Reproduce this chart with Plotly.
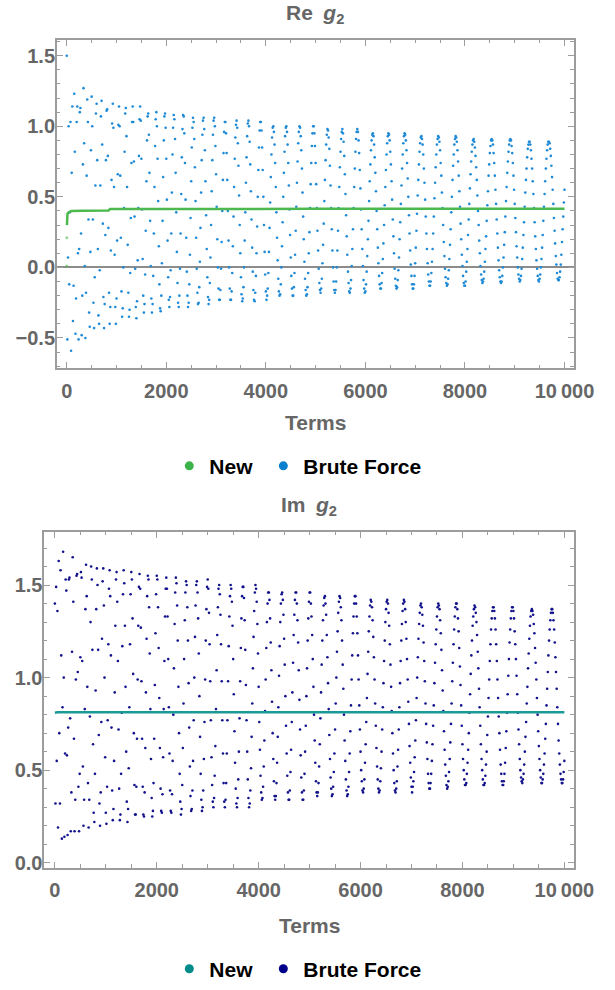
import plotly.graph_objects as go

# ---------------- data (read / estimated from the reference picture) ----------------
# Brute-force partial sums: samples at terms 0, 25, ..., 10000 and at 12, 37, ..., 9987
terms = list(range(0, 10001, 25))
terms_mid = list(range(12, 10000, 25))

re_brute = [
    1.50, 0.07, -0.12, 1.03, 0.67, -0.38, 1.23, -0.47, 1.03, 0.10, 0.13, 1.13, -0.48, 0.73, 0.88, -0.50, 0.65, 1.03, -0.32, 0.11,
    1.21, 0.34, -0.43, 0.58, 1.16, 0.13, -0.40, 0.58, 1.18, 0.31, -0.43, 0.23, 1.11, 0.79, -0.18, -0.28, 0.62, 1.16, 0.57, -0.28,
    -0.22, 0.66, 1.14, 0.65, -0.17, -0.29, 0.42, 1.09, 0.93, 0.16, -0.35, -0.04, 0.74, 1.14, 0.75, -0.01, -0.36, 0.05, 0.79, 1.14,
    0.77, 0.06, -0.32, -0.05, 0.61, 1.07, 0.94, 0.33, -0.22, -0.26, 0.24, 0.86, 1.10, 0.77, 0.15, -0.29, -0.20, 0.33, 0.90, 1.09,
    0.77, 0.19, -0.23, -0.21, 0.24, 0.80, 1.08, 0.91, 0.39, -0.11, -0.28, -0.01, 0.52, 0.98, 1.07, 0.74, 0.21, -0.20, -0.25, 0.09,
    0.61, 0.99, 1.03, 0.71, 0.21, -0.18, -0.25, 0.04, 0.53, 0.94, 1.06, 0.83, 0.37, -0.07, -0.26, -0.11, 0.30, 0.76, 1.04, 1.00,
    0.66, 0.20, -0.15, -0.23, -0.01, 0.40, 0.81, 1.03, 0.95, 0.62, 0.19, -0.15, -0.23, -0.04, 0.36, 0.77, 1.01, 0.99, 0.72, 0.30,
    -0.07, -0.24, -0.14, 0.19, 0.60, 0.93, 1.04, 0.89, 0.54, 0.14, -0.16, -0.24, -0.06, 0.29, 0.69, 0.97, 1.03, 0.85, 0.50, 0.11,
    -0.17, -0.20, -0.04, 0.28, 0.64, 0.92, 1.00, 0.87, 0.57, 0.21, -0.08, -0.20, -0.12, 0.15, 0.50, 0.82, 0.99, 0.96, 0.74, 0.41,
    0.07, -0.15, -0.20, -0.04, 0.26, 0.60, 0.88, 1.00, 0.93, 0.70, 0.36, 0.04, -0.16, -0.19, -0.04, 0.25, 0.59, 0.86, 1.00, 0.95,
    0.74, 0.42, 0.12, -0.11, -0.18, -0.08, 0.16, 0.47, 0.76, 0.94, 0.97, 0.84, 0.58, 0.27, 0.00, -0.16, -0.16, 0.00, 0.26, 0.57,
    0.82, 0.96, 0.95, 0.79, 0.52, 0.22, -0.03, -0.17, -0.15, 0.01, 0.27, 0.57, 0.82, 0.96, 0.96, 0.81, 0.56, 0.27, 0.01, -0.15,
    -0.17, -0.03, 0.20, 0.47, 0.73, 0.90, 0.95, 0.87, 0.67, 0.40, 0.14, -0.06, -0.15, -0.11, 0.06, 0.30, 0.57, 0.80, 0.93, 0.94,
    0.82, 0.61, 0.34, 0.10, -0.08, -0.15, -0.09, 0.07, 0.32, 0.58, 0.80, 0.93, 0.94, 0.83, 0.63, 0.37, 0.12, -0.06, -0.15, -0.12,
    0.03, 0.26, 0.51, 0.73, 0.88, 0.93, 0.87, 0.70, 0.48, 0.24, 0.03, -0.10, -0.13, -0.04, 0.13, 0.36, 0.60, 0.80, 0.91, 0.92,
    0.83, 0.65, 0.42, 0.18, -0.01, -0.11, -0.12, -0.02, 0.16, 0.39, 0.62, 0.80, 0.91, 0.92, 0.83, 0.65, 0.43, 0.20, 0.01, -0.11,
    -0.13, -0.03, 0.13, 0.34, 0.56, 0.75, 0.87, 0.91, 0.85, 0.71, 0.51, 0.30, 0.10, -0.05, -0.11, -0.08, 0.04, 0.22, 0.44, 0.65,
    0.81, 0.90, 0.90, 0.81, 0.65, 0.45, 0.24, 0.05, -0.07, -0.11, -0.06, 0.07, 0.25, 0.47, 0.67, 0.82, 0.90, 0.90, 0.81, 0.65,
    0.45, 0.25, 0.07, -0.05, -0.10, -0.06, 0.06, 0.23, 0.43, 0.62, 0.78, 0.87, 0.89, 0.83, 0.70, 0.52, 0.32, 0.13, -0.01, -0.09,
    -0.08, 0.00, 0.14, 0.33, 0.52, 0.70, 0.83, 0.89, 0.88, 0.79, 0.64, 0.45, 0.26, 0.08, -0.04, -0.09, -0.07, 0.02, 0.18, 0.36,
    0.55,
]

re_brute_mid = [
    -0.51, 1.00, 0.39, -0.59, 1.14, -0.13, 0.82, -0.22, 1.14, -0.51, 1.10, 0.24, -0.20, 1.27, 0.01, -0.18, 1.19, 0.34, -0.42, 0.83,
    1.00, -0.25, -0.07, 1.09, 0.76, -0.34, -0.02, 1.07, 0.87, -0.21, -0.26, 0.76, 1.12, 0.28, -0.40, 0.12, 1.02, 0.99, 0.09, -0.40,
    0.19, 1.01, 1.00, 0.21, -0.35, 0.00, 0.82, 1.13, 0.57, -0.18, -0.30, 0.35, 1.03, 1.03, 0.36, -0.28, -0.24, 0.42, 1.05, 1.04,
    0.41, -0.20, -0.26, 0.26, 0.90, 1.09, 0.67, 0.01, -0.32, -0.06, 0.57, 1.05, 1.00, 0.47, -0.12, -0.31, 0.03, 0.64, 1.07, 0.99,
    0.48, -0.07, -0.28, -0.02, 0.53, 0.99, 1.05, 0.67, 0.11, -0.25, -0.20, 0.24, 0.78, 1.08, 0.95, 0.48, -0.03, -0.28, -0.12, 0.35,
    0.85, 1.06, 0.91, 0.47, -0.01, -0.26, -0.14, 0.28, 0.76, 1.04, 0.98, 0.61, 0.13, -0.21, -0.23, 0.07, 0.54, 0.94, 1.06, 0.86,
    0.43, 0.00, -0.23, -0.16, 0.18, 0.62, 0.96, 1.03, 0.81, 0.40, 0.00, -0.23, -0.17, 0.15, 0.57, 0.92, 1.04, 0.88, 0.51, 0.10,
    -0.19, -0.22, 0.00, 0.39, 0.78, 1.02, 1.00, 0.73, 0.34, -0.03, -0.23, -0.18, 0.10, 0.50, 0.85, 1.03, 0.97, 0.69, 0.30, -0.05,
    -0.23, -0.15, 0.11, 0.46, 0.80, 0.99, 0.96, 0.74, 0.39, 0.05, -0.17, -0.19, 0.00, 0.32, 0.67, 0.93, 1.00, 0.87, 0.58, 0.23,
    -0.06, -0.20, -0.14, 0.09, 0.43, 0.75, 0.96, 0.99, 0.83, 0.53, 0.20, -0.08, -0.20, -0.14, 0.10, 0.42, 0.74, 0.95, 1.00, 0.86,
    0.59, 0.26, -0.01, -0.16, -0.15, 0.03, 0.31, 0.62, 0.87, 0.98, 0.92, 0.72, 0.42, 0.12, -0.10, -0.18, -0.10, 0.12, 0.42, 0.71,
    0.91, 0.98, 0.89, 0.66, 0.37, 0.09, -0.11, -0.18, -0.09, 0.13, 0.42, 0.70, 0.91, 0.98, 0.90, 0.69, 0.41, 0.13, -0.09, -0.18,
    -0.12, 0.08, 0.33, 0.61, 0.83, 0.94, 0.93, 0.78, 0.54, 0.27, 0.03, -0.12, -0.15, -0.04, 0.17, 0.44, 0.69, 0.88, 0.95, 0.90,
    0.73, 0.48, 0.22, -0.01, -0.13, -0.14, -0.02, 0.20, 0.45, 0.70, 0.88, 0.95, 0.90, 0.74, 0.50, 0.24, 0.02, -0.12, -0.15, -0.06,
    0.14, 0.38, 0.62, 0.82, 0.92, 0.91, 0.80, 0.60, 0.36, 0.13, -0.05, -0.13, -0.10, 0.04, 0.24, 0.49, 0.71, 0.87, 0.93, 0.89,
    0.74, 0.53, 0.30, 0.08, -0.07, -0.13, -0.08, 0.06, 0.27, 0.50, 0.72, 0.87, 0.93, 0.89, 0.75, 0.54, 0.31, 0.09, -0.06, -0.13,
    -0.10, 0.04, 0.23, 0.45, 0.66, 0.82, 0.90, 0.89, 0.79, 0.62, 0.40, 0.19, 0.01, -0.09, -0.10, -0.03, 0.13, 0.33, 0.54, 0.73,
    0.86, 0.91, 0.87, 0.74, 0.55, 0.34, 0.14, -0.02, -0.10, -0.10, 0.00, 0.16, 0.36, 0.57, 0.75, 0.87, 0.91, 0.86, 0.74, 0.55,
    0.35, 0.15, 0.00, -0.08, -0.09, -0.01, 0.14, 0.32, 0.53, 0.70, 0.84, 0.89, 0.87, 0.77, 0.61, 0.42, 0.22, 0.05, -0.06, -0.10,
    -0.05, 0.06, 0.23, 0.43, 0.61, 0.77, 0.87, 0.89, 0.84, 0.72, 0.55, 0.35, 0.17, 0.02, -0.08, -0.09, -0.03, 0.09, 0.27, 0.46,
]

im_brute = [
    1.40, 1.49, 1.36, 1.63, 0.32, 1.12, 0.84, 1.00, 0.59, 1.47, 0.15, 1.53, 0.78, 0.38, 1.65, 0.67, 0.34, 1.55, 1.03, 0.17,
    1.11, 1.54, 0.52, 0.34, 1.37, 1.44, 0.43, 0.34, 1.30, 1.53, 0.64, 0.22, 0.93, 1.59, 1.15, 0.32, 0.38, 1.21, 1.59, 1.00,
    0.27, 0.41, 1.18, 1.58, 1.12, 0.39, 0.29, 0.92, 1.53, 1.41, 0.72, 0.23, 0.48, 1.17, 1.58, 1.28, 0.60, 0.22, 0.51, 1.18,
    1.57, 1.32, 0.70, 0.26, 0.41, 0.99, 1.49, 1.48, 0.98, 0.41, 0.25, 0.62, 1.21, 1.55, 1.38, 0.83, 0.35, 0.28, 0.67, 1.24,
    1.55, 1.38, 0.89, 0.40, 0.27, 0.57, 1.09, 1.48, 1.48, 1.10, 0.59, 0.28, 0.37, 0.80, 1.29, 1.54, 1.39, 0.95, 0.48, 0.26,
    0.42, 0.86, 1.31, 1.52, 1.38, 0.97, 0.52, 0.28, 0.39, 0.77, 1.22, 1.50, 1.46, 1.13, 0.68, 0.34, 0.30, 0.56, 0.99, 1.37,
    1.53, 1.35, 0.98, 0.57, 0.33, 0.35, 0.63, 1.04, 1.38, 1.50, 1.34, 0.98, 0.59, 0.33, 0.34, 0.59, 0.98, 1.33, 1.50, 1.41,
    1.10, 0.71, 0.40, 0.30, 0.45, 0.78, 1.16, 1.44, 1.49, 1.31, 0.96, 0.60, 0.35, 0.32, 0.51, 0.86, 1.22, 1.46, 1.48, 1.29,
    0.95, 0.61, 0.38, 0.35, 0.52, 0.82, 1.16, 1.40, 1.46, 1.32, 1.04, 0.70, 0.44, 0.34, 0.43, 0.68, 1.01, 1.30, 1.45, 1.42,
    1.21, 0.90, 0.59, 0.38, 0.34, 0.49, 0.76, 1.08, 1.34, 1.46, 1.40, 1.19, 0.88, 0.58, 0.38, 0.34, 0.48, 0.74, 1.05, 1.32,
    1.46, 1.40, 1.23, 0.95, 0.66, 0.44, 0.36, 0.43, 0.64, 0.92, 1.20, 1.39, 1.44, 1.34, 1.11, 0.83, 0.56, 0.40, 0.37, 0.49,
    0.72, 1.00, 1.25, 1.41, 1.43, 1.31, 1.07, 0.80, 0.55, 0.39, 0.37, 0.49, 0.71, 0.99, 1.24, 1.40, 1.44, 1.33, 1.12, 0.85,
    0.60, 0.44, 0.38, 0.45, 0.64, 0.89, 1.14, 1.33, 1.42, 1.38, 1.22, 0.99, 0.74, 0.52, 0.40, 0.39, 0.51, 0.72, 0.97, 1.20,
    1.37, 1.42, 1.35, 1.18, 0.95, 0.70, 0.50, 0.39, 0.40, 0.52, 0.72, 0.97, 1.20, 1.36, 1.42, 1.37, 1.21, 0.99, 0.75, 0.54,
    0.41, 0.41, 0.49, 0.66, 0.89, 1.11, 1.29, 1.39, 1.38, 1.28, 1.09, 0.86, 0.65, 0.48, 0.40, 0.43, 0.55, 0.74, 0.97, 1.18,
    1.33, 1.40, 1.37, 1.24, 1.04, 0.82, 0.61, 0.47, 0.40, 0.44, 0.56, 0.75, 0.98, 1.18, 1.33, 1.40, 1.37, 1.25, 1.06, 0.85,
    0.64, 0.50, 0.42, 0.43, 0.54, 0.70, 0.91, 1.12, 1.28, 1.37, 1.38, 1.30, 1.14, 0.94, 0.74, 0.56, 0.45, 0.42, 0.47, 0.60,
    0.79, 0.99, 1.18, 1.32, 1.38, 1.36, 1.26, 1.09, 0.89, 0.70, 0.53, 0.44, 0.42, 0.48, 0.62, 0.81, 1.01, 1.19, 1.32, 1.38,
    1.36, 1.25, 1.10, 0.91, 0.72, 0.56, 0.46, 0.43, 0.48, 0.60, 0.76, 0.95, 1.13, 1.28, 1.36, 1.36, 1.29, 1.16, 0.99, 0.80,
    0.63, 0.50, 0.43, 0.45, 0.53, 0.67, 0.85, 1.03, 1.20, 1.31, 1.37, 1.35, 1.26, 1.11, 0.94, 0.75, 0.59, 0.48, 0.43, 0.45,
    0.55,
]

im_brute_mid = [
    0.32, 0.55, 0.19, 0.70, 1.58, 0.13, 1.68, 0.14, 1.53, 0.58, 0.73, 1.54, 0.17, 1.14, 1.41, 0.17, 0.99, 1.56, 0.41, 0.48,
    1.57, 1.09, 0.20, 0.83, 1.61, 0.95, 0.19, 0.79, 1.60, 1.15, 0.27, 0.48, 1.37, 1.50, 0.69, 0.20, 0.76, 1.52, 1.39, 0.57,
    0.21, 0.77, 1.48, 1.44, 0.73, 0.23, 0.55, 1.28, 1.57, 1.09, 0.40, 0.26, 0.81, 1.45, 1.51, 0.95, 0.33, 0.29, 0.84, 1.45,
    1.53, 1.02, 0.42, 0.26, 0.67, 1.28, 1.56, 1.27, 0.67, 0.26, 0.38, 0.92, 1.44, 1.53, 1.13, 0.56, 0.25, 0.43, 0.96, 1.45,
    1.53, 1.16, 0.62, 0.28, 0.37, 0.83, 1.33, 1.54, 1.33, 0.84, 0.39, 0.27, 0.55, 1.05, 1.46, 1.51, 1.20, 0.70, 0.33, 0.29,
    0.62, 1.10, 1.46, 1.50, 1.20, 0.73, 0.36, 0.29, 0.55, 1.00, 1.39, 1.52, 1.32, 0.90, 0.48, 0.28, 0.39, 0.76, 1.20, 1.49,
    1.48, 1.18, 0.77, 0.42, 0.30, 0.47, 0.83, 1.23, 1.48, 1.45, 1.18, 0.77, 0.43, 0.30, 0.43, 0.77, 1.17, 1.44, 1.48, 1.28,
    0.91, 0.54, 0.32, 0.35, 0.60, 0.98, 1.32, 1.49, 1.43, 1.15, 0.77, 0.45, 0.30, 0.39, 0.68, 1.05, 1.36, 1.50, 1.41, 1.13,
    0.76, 0.47, 0.34, 0.41, 0.66, 0.99, 1.30, 1.46, 1.42, 1.19, 0.87, 0.56, 0.36, 0.36, 0.54, 0.84, 1.17, 1.40, 1.46, 1.34,
    1.07, 0.74, 0.47, 0.34, 0.39, 0.61, 0.92, 1.23, 1.42, 1.46, 1.31, 1.04, 0.72, 0.46, 0.34, 0.39, 0.60, 0.90, 1.20, 1.41,
    1.46, 1.33, 1.10, 0.80, 0.54, 0.38, 0.38, 0.52, 0.78, 1.07, 1.31, 1.43, 1.40, 1.23, 0.97, 0.69, 0.46, 0.36, 0.41, 0.59,
    0.86, 1.14, 1.35, 1.44, 1.38, 1.20, 0.94, 0.66, 0.45, 0.36, 0.41, 0.59, 0.85, 1.12, 1.33, 1.44, 1.40, 1.24, 0.99, 0.72,
    0.50, 0.39, 0.40, 0.54, 0.76, 1.02, 1.25, 1.39, 1.41, 1.31, 1.11, 0.86, 0.62, 0.45, 0.38, 0.44, 0.60, 0.84, 1.09, 1.30,
    1.41, 1.40, 1.28, 1.07, 0.82, 0.59, 0.43, 0.38, 0.44, 0.61, 0.84, 1.09, 1.29, 1.40, 1.41, 1.30, 1.10, 0.87, 0.63, 0.46,
    0.38, 0.44, 0.57, 0.77, 1.00, 1.21, 1.35, 1.40, 1.34, 1.19, 0.98, 0.75, 0.56, 0.43, 0.40, 0.48, 0.64, 0.85, 1.08, 1.26,
    1.38, 1.39, 1.31, 1.15, 0.93, 0.71, 0.53, 0.42, 0.41, 0.49, 0.65, 0.86, 1.08, 1.26, 1.38, 1.40, 1.32, 1.16, 0.96, 0.74,
    0.56, 0.45, 0.42, 0.48, 0.61, 0.81, 1.02, 1.20, 1.33, 1.39, 1.35, 1.23, 1.05, 0.84, 0.64, 0.50, 0.42, 0.43, 0.53, 0.69,
    0.89, 1.09, 1.26, 1.36, 1.38, 1.32, 1.18, 0.99, 0.79, 0.61, 0.48, 0.42, 0.44, 0.54, 0.71, 0.91, 1.10, 1.26, 1.36, 1.38,
    1.32, 1.18, 1.01, 0.81, 0.64, 0.50, 0.44, 0.45, 0.53, 0.68, 0.86, 1.05, 1.21, 1.33, 1.37, 1.34, 1.24, 1.08, 0.89, 0.71,
    0.56, 0.46, 0.43, 0.48, 0.59, 0.75, 0.94, 1.12, 1.26, 1.35, 1.37, 1.31, 1.19, 1.03, 0.84, 0.66, 0.53, 0.45, 0.43, 0.49,
]

assert len(re_brute) == len(terms) and len(im_brute) == len(terms)
assert len(re_brute_mid) == len(terms_mid) and len(im_brute_mid) == len(terms_mid)

# "New" method (converges almost immediately)
new_re_first_terms = [0, 2]
new_re_first_vals = [0.01, 0.21]
new_re_terms = [4, 8, 15, 40, 100, 300, 840, 870, 2000, 5000, 10000]
new_re_vals = [0.30, 0.36, 0.38, 0.39, 0.40, 0.402, 0.404, 0.413, 0.414, 0.415, 0.415]

new_im_terms = [0, 50, 10000]
new_im_vals = [0.81, 0.813, 0.813]

x_tick_vals = [0, 2000, 4000, 6000, 8000, 10000]
x_tick_text = ["0", "2000", "4000", "6000", "8000", "10\u2009000"]
re_tick_vals = [-0.5, 0.0, 0.5, 1.0, 1.5]
re_tick_text = ["\u22120.5", "0.0", "0.5", "1.0", "1.5"]
im_tick_vals = [0.0, 0.5, 1.0, 1.5]
im_tick_text = ["0.0", "0.5", "1.0", "1.5"]

# ---------------- styling ----------------
FONT = "Liberation Sans"
TXT = "#666666"
FRAME = "#9c9c9c"
C_RE_NEW = "#4db84d"
C_RE_BF = "#1f8ad6"
C_IM_NEW = "#1a9a96"
C_IM_BF = "#12128c"
DOT = 2.6

W, H = 615, 990


def px_x(p):
    return p / W


def px_y(p):
    return 1 - p / H


fig = go.Figure()

# ---- Re panel ----
fig.add_trace(go.Scatter(x=terms + terms_mid, y=re_brute + re_brute_mid, mode="markers", xaxis="x", yaxis="y",
                         marker=dict(size=DOT, color=C_RE_BF), showlegend=False, name="Brute Force"))
fig.add_trace(go.Scatter(x=new_re_first_terms, y=new_re_first_vals, mode="markers", xaxis="x", yaxis="y",
                         marker=dict(size=3, color=C_RE_NEW, opacity=0.6), showlegend=False, name="New"))
fig.add_trace(go.Scatter(x=new_re_terms, y=new_re_vals, mode="lines", xaxis="x", yaxis="y",
                         line=dict(color=C_RE_NEW, width=2.5), showlegend=False, name="New"))
fig.add_trace(go.Scatter(x=[None], y=[None], mode="markers", xaxis="x", yaxis="y",
                         marker=dict(size=9, color="#3cb44b"), name="New\u00a0", legend="legend"))
fig.add_trace(go.Scatter(x=[None], y=[None], mode="markers", xaxis="x", yaxis="y",
                         marker=dict(size=9, color="#0a7fd0"), name="Brute Force", legend="legend"))

# ---- Im panel ----
fig.add_trace(go.Scatter(x=terms + terms_mid, y=im_brute + im_brute_mid, mode="markers", xaxis="x2", yaxis="y2",
                         marker=dict(size=DOT, color=C_IM_BF), showlegend=False, name="Brute Force"))
fig.add_trace(go.Scatter(x=new_im_terms, y=new_im_vals, mode="lines", xaxis="x2", yaxis="y2",
                         line=dict(color=C_IM_NEW, width=2.5), showlegend=False, name="New"))
fig.add_trace(go.Scatter(x=[None], y=[None], mode="markers", xaxis="x2", yaxis="y2",
                         marker=dict(size=9, color="#008b8b"), name="New\u00a0", legend="legend2"))
fig.add_trace(go.Scatter(x=[None], y=[None], mode="markers", xaxis="x2", yaxis="y2",
                         marker=dict(size=9, color="#00008b"), name="Brute Force", legend="legend2"))

tickfont = dict(family=FONT, size=20, color=TXT, weight="bold")


def xcfg(domain, rng, anchor):
    return dict(domain=domain, range=rng, anchor=anchor, tickmode="array",
                tickvals=x_tick_vals, ticktext=x_tick_text,
                ticks="inside", ticklen=6, tickwidth=1, tickcolor=FRAME,
                minor=dict(tickmode="linear", tick0=0, dtick=500, ticks="inside",
                           ticklen=3.5, tickwidth=1, tickcolor=FRAME),
                showline=True, linecolor=FRAME, linewidth=1.5, mirror="allticks",
                showgrid=False, zeroline=False, tickfont=tickfont, ticklabelstandoff=4)


def ycfg(domain, rng, anchor, vals, text, zero):
    return dict(domain=domain, range=rng, anchor=anchor, tickmode="array",
                tickvals=vals, ticktext=text,
                ticks="inside", ticklen=6, tickwidth=1, tickcolor=FRAME,
                minor=dict(tickmode="linear", tick0=0, dtick=0.1, ticks="inside",
                           ticklen=3.5, tickwidth=1, tickcolor=FRAME),
                showline=True, linecolor=FRAME, linewidth=1.5, mirror="allticks",
                showgrid=False, zeroline=zero, zerolinecolor="#8c8c8c", zerolinewidth=1.5,
                tickfont=tickfont, ticklabelstandoff=-4)


legend_font = dict(family=FONT, size=21, color="black", weight="bold")

layout = dict(
    width=W, height=H, margin=dict(l=0, r=0, t=0, b=0),
    paper_bgcolor="white", plot_bgcolor="white",
    xaxis=xcfg([px_x(58.7), px_x(593)], [-200, 10185], "y"),
    yaxis=ycfg([px_y(370), px_y(40)], [-0.711, 1.613], "x", re_tick_vals, re_tick_text, True),
    xaxis2=xcfg([px_x(45.7), px_x(593)], [-209, 10184], "y2"),
    yaxis2=ycfg([px_y(873), px_y(535)], [-0.027, 1.788], "x2", im_tick_vals, im_tick_text, False),
    legend=dict(orientation="h", x=px_x(175), xanchor="left", y=px_y(469), yanchor="middle",
                font=legend_font, bgcolor="rgba(0,0,0,0)", itemclick=False),
    legend2=dict(orientation="h", x=px_x(175), xanchor="left", y=px_y(975), yanchor="middle",
                 font=legend_font, bgcolor="rgba(0,0,0,0)", itemclick=False),
    annotations=[
        dict(text="Re\u2002<i>g</i><sub>2</sub>", x=px_x(326), y=px_y(14), xref="paper", yref="paper",
             showarrow=False, xanchor="center", yanchor="middle",
             font=dict(family=FONT, size=21, color=TXT, weight="bold")),
        dict(text="Terms", x=px_x(326), y=px_y(425), xref="paper", yref="paper",
             showarrow=False, xanchor="center", yanchor="middle",
             font=dict(family=FONT, size=21, color=TXT, weight="bold")),
        dict(text="Im\u2002<i>g</i><sub>2</sub>", x=px_x(319.5), y=px_y(509), xref="paper", yref="paper",
             showarrow=False, xanchor="center", yanchor="middle",
             font=dict(family=FONT, size=21, color=TXT, weight="bold")),
        dict(text="Terms", x=px_x(319.5), y=px_y(931), xref="paper", yref="paper",
             showarrow=False, xanchor="center", yanchor="middle",
             font=dict(family=FONT, size=21, color=TXT, weight="bold")),
    ],
)
fig.update_layout(**layout)

fig.write_html("out.html")
